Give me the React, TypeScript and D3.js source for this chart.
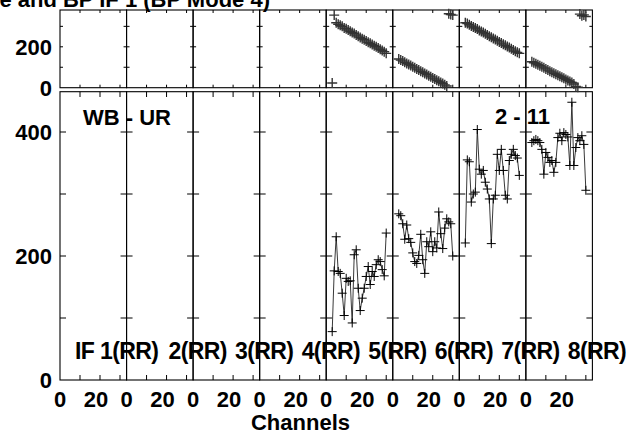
import React from "react";
import * as d3 from "d3";

// IF panels and their labels
const ifNames = ["1", "2", "3", "4", "5", "6", "7", "8"];
const ifLabels = ["IF 1(RR)", "2(RR)", "3(RR)", "4(RR)", "5(RR)", "6(RR)", "7(RR)", "8(RR)"];
const channels = [3, 4, 5, 6, 7, 8, 9, 10, 11, 12, 13, 14, 15, 16, 17, 18, 19, 20, 21, 22, 23, 24, 25, 26, 27, 28, 29, 30];

// amplitude per channel (IF 1-4 have no data)
const ampIF5 = [78, 176, 231, 175, 172, 140, 104, 164, 159, 160, 92, 202, 210, 148, 112, 132, 148, 167, 183, 154, 175, 167, 186, 194, 191, 178, 168, 237];
const ampIF6 = [268, 265, 252, 227, 250, 228, 222, 205, 191, 188, 201, 235, 194, 172, 223, 215, 239, 207, 223, 213, 271, 236, 212, 245, 260, 255, 252, 200];
const ampIF7 = [221, 355, 352, 287, 300, 303, 404, 340, 332, 338, 319, 308, 292, 220, 292, 298, 364, 338, 372, 338, 298, 292, 354, 364, 372, 362, 358, 330];
const ampIF8 = [383, 386, 388, 386, 383, 372, 332, 367, 359, 351, 354, 335, 351, 391, 398, 386, 399, 396, 392, 346, 448, 346, 375, 391, 386, 394, 380, 306];

// phase per channel (degrees)
const phaseIF5 = [23, 355, 318, 310, 305, 300, 292, 288, 282, 276, 270, 265, 258, 252, 246, 240, 235, 229, 222, 217, 211, 205, 200, 194, 188, 182, 176, 168];
const phaseIF6 = [140, 135, 130, 124, 118, 113, 108, 102, 97, 91, 86, 80, 75, 70, 64, 58, 53, 47, 42, 36, 31, 25, 20, 14, 8, 362, 358, 355];
const phaseIF7 = [318, 314, 308, 302, 297, 292, 287, 280, 275, 270, 264, 258, 252, 247, 241, 236, 230, 224, 218, 213, 207, 201, 196, 190, 184, 178, 173, 168];
const phaseIF8 = [127, 122, 117, 112, 107, 102, 97, 92, 86, 81, 76, 71, 66, 61, 56, 51, 46, 40, 35, 30, 25, 18, 6, 2, 360, 352, 356, 348];

const ampSeries = [null, null, null, null, ampIF5, ampIF6, ampIF7, ampIF8];
const phaseSeries = [null, null, null, null, phaseIF5, phaseIF6, phaseIF7, phaseIF8];

const ampTicks = [100, 200, 300, 400];
const ampTickLabels = [0, 200, 400];
const phaseTicks = [100, 200, 300];
const phaseTickLabels = [0, 200];
const chanTicks = [10, 20, 30];
const chanTickLabels = [0, 20];

const font = "'Liberation Sans', Arial, Helvetica, sans-serif";

function Cross({ x, y, r, stroke, sw }) {
  return (
    <path
      d={`M${x - r},${y}H${x + r}M${x},${y - r}V${y + r}`}
      stroke={stroke}
      strokeWidth={sw}
      fill="none"
    />
  );
}

export default function App() {
  const width = 635;
  const height = 434;

  const panel = d3.scaleBand().domain(ifNames).range([60, 592.4]).padding(0);
  const bw = panel.bandwidth();
  const chan = d3.scaleLinear().domain([0, 33.27]).range([0, bw]);
  const yAmp = d3.scaleLinear().domain([0, 465]).range([380, 91.7]);
  const yPh = d3.scaleLinear().domain([0, 380]).range([87.7, 10]);

  const ampLine = d3
    .line<number>()
    .x((d, i) => chan(channels[i]))
    .y((d) => yAmp(d));

  const textStyle = { fontFamily: font, fontWeight: "bold", fontSize: 22 };

  return (
    <svg
      width={width}
      height={height}
      style={{ position: "absolute", left: 0, top: 0, background: "#fff" }}
    >
      <rect width={width} height={height} fill="#fff" />
      <text x={270} y={6.5} textAnchor="end" {...textStyle}>
        Phase and BP IF 1 (BP Mode 4)
      </text>

      {ifNames.map((name, k) => {
        const x0 = panel(name);
        const amp = ampSeries[k];
        const ph = phaseSeries[k];
        return (
          <g key={name} transform={`translate(${x0},0)`}>
            {/* phase panel frame */}
            <rect x={0} y={yPh.range()[1]} width={bw} height={yPh.range()[0] - yPh.range()[1]} fill="none" stroke="#000" strokeWidth={1.1} />
            {phaseTicks.map((t) => (
              <g key={"pt" + t} stroke="#000" strokeWidth={1}>
                <line x1={0} x2={3} y1={yPh(t)} y2={yPh(t)} />
                <line x1={bw - 3} x2={bw} y1={yPh(t)} y2={yPh(t)} />
              </g>
            ))}
            {chanTicks.map((t) => (
              <g key={"pc" + t} stroke="#000" strokeWidth={1}>
                <line x1={chan(t)} x2={chan(t)} y1={10} y2={13} />
                <line x1={chan(t)} x2={chan(t)} y1={87.7} y2={84.7} />
              </g>
            ))}

            {/* amplitude panel frame */}
            <rect x={0} y={yAmp.range()[1]} width={bw} height={yAmp.range()[0] - yAmp.range()[1]} fill="none" stroke="#000" strokeWidth={1.1} />
            {ampTicks.map((t) => (
              <g key={"at" + t} stroke="#000" strokeWidth={1}>
                <line x1={0} x2={6} y1={yAmp(t)} y2={yAmp(t)} />
                <line x1={bw - 6} x2={bw} y1={yAmp(t)} y2={yAmp(t)} />
              </g>
            ))}
            {chanTicks.map((t) => (
              <g key={"ac" + t} stroke="#000" strokeWidth={1}>
                <line x1={chan(t)} x2={chan(t)} y1={91.7} y2={97} />
                <line x1={chan(t)} x2={chan(t)} y1={380} y2={375} />
              </g>
            ))}

            {/* channel tick labels */}
            {chanTickLabels.map((t) => (
              <text key={"cl" + t} x={chan(t) - (t === 0 ? 0 : 4)} y={406.7} textAnchor="middle" {...textStyle}>
                {t}
              </text>
            ))}

            {/* phase points */}
            {ph &&
              ph.map((v, i) => (
                <Cross key={"p" + i} x={chan(channels[i])} y={yPh(v)} r={5} stroke="#333" sw={1.4} />
              ))}

            {/* amplitude line + points */}
            {amp && (
              <g>
                <path d={ampLine(amp)} fill="none" stroke="#222" strokeWidth={0.9} />
                {amp.map((v, i) => (
                  <Cross key={"a" + i} x={chan(channels[i])} y={yAmp(v)} r={4.5} stroke="#000" sw={1} />
                ))}
              </g>
            )}

            {/* IF label */}
            <text
              x={k === 0 ? 15 : 42}
              y={359}
              letterSpacing={-0.6}
              {...textStyle}
              fontSize={23}
            >
              {ifLabels[k]}
            </text>
          </g>
        );
      })}

      {/* y axis labels */}
      {phaseTickLabels.map((t) => (
        <text key={"pl" + t} x={52} y={yPh(t) + 8.3} textAnchor="end" {...textStyle}>
          {t}
        </text>
      ))}
      {ampTickLabels.map((t) => (
        <text key={"al" + t} x={52} y={yAmp(t) + 8.3} textAnchor="end" {...textStyle}>
          {t}
        </text>
      ))}

      <text x={83} y={125} {...textStyle}>WB - UR</text>
      <text x={495} y={124} {...textStyle}>2 - 11</text>
      <text x={300.5} y={430} textAnchor="middle" {...textStyle}>Channels</text>
    </svg>
  );
}
